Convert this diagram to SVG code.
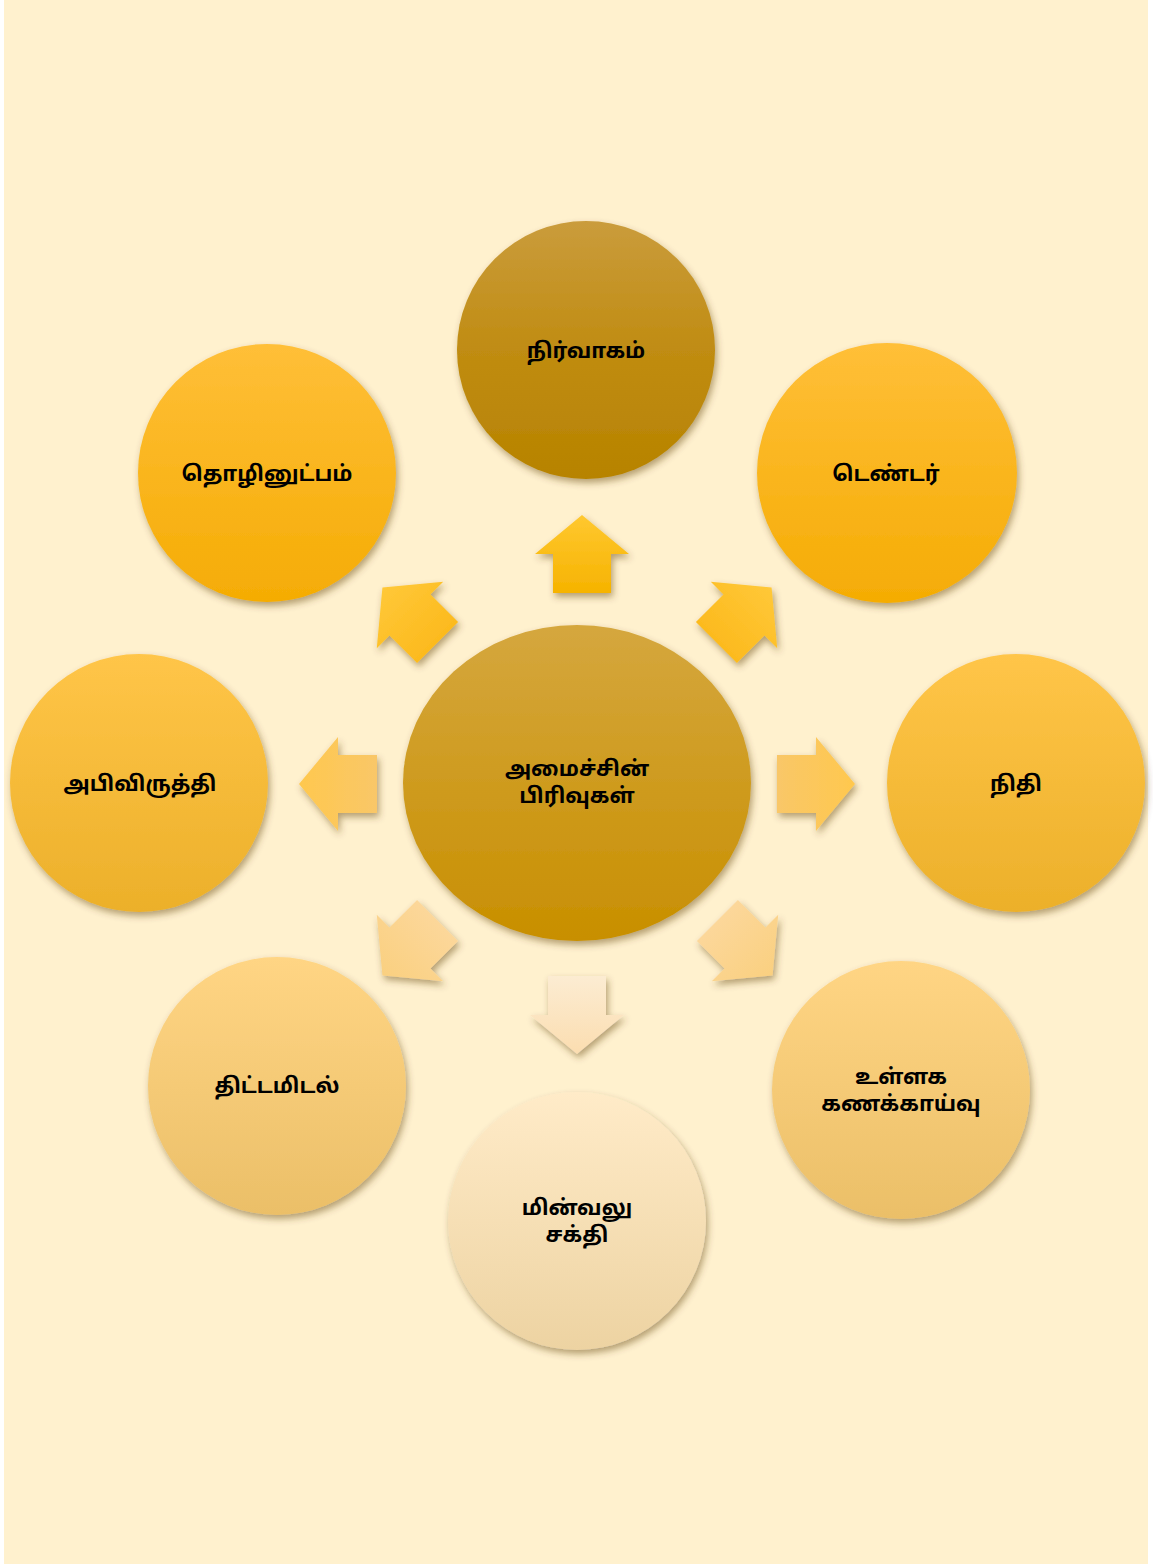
<svg xmlns="http://www.w3.org/2000/svg" width="1153" height="1564" viewBox="0 0 1153 1564">
<style>
.lbl{font-family:"Noto Sans Tamil","Latha","Lohit Tamil","Noto Sans","DejaVu Sans",sans-serif;font-weight:bold;font-size:21.5px;fill:#000;text-anchor:middle;}
</style>
<defs>
<filter id="sh" x="-20%" y="-20%" width="150%" height="150%">
<feDropShadow dx="2" dy="4" stdDeviation="3.5" flood-color="#5a3a00" flood-opacity="0.45"/>
</filter>
<linearGradient id="gTop" x1="0" y1="0" x2="0" y2="1"><stop offset="0" stop-color="#CA9C3C"/><stop offset="0.5" stop-color="#C08C12"/><stop offset="1" stop-color="#B78300"/></linearGradient>
<linearGradient id="gCen" x1="0" y1="0" x2="0" y2="1"><stop offset="0" stop-color="#D5A73E"/><stop offset="1" stop-color="#C88F00"/></linearGradient>
<linearGradient id="gOr" x1="0" y1="0" x2="0" y2="1"><stop offset="0" stop-color="#FFBF38"/><stop offset="1" stop-color="#F5AC04"/></linearGradient>
<linearGradient id="gSide" x1="0" y1="0" x2="0" y2="1"><stop offset="0" stop-color="#FFC548"/><stop offset="1" stop-color="#ECB02A"/></linearGradient>
<linearGradient id="gLow" x1="0" y1="0" x2="0" y2="1"><stop offset="0" stop-color="#FFD584"/><stop offset="1" stop-color="#EBBF68"/></linearGradient>
<linearGradient id="gBot" x1="0" y1="0" x2="0" y2="1"><stop offset="0" stop-color="#FFEBC8"/><stop offset="1" stop-color="#EDD3A2"/></linearGradient>
<linearGradient id="aUp" x1="0" y1="0" x2="0" y2="1"><stop offset="0" stop-color="#FFC830"/><stop offset="1" stop-color="#F6B300"/></linearGradient>
<linearGradient id="aDiagU" x1="0" y1="0" x2="0" y2="1"><stop offset="0" stop-color="#FFC838"/><stop offset="1" stop-color="#FCBA1E"/></linearGradient>
<linearGradient id="aSide" x1="0" y1="0" x2="0" y2="1"><stop offset="0" stop-color="#FFC84E"/><stop offset="1" stop-color="#F9C768"/></linearGradient>
<linearGradient id="aDiagD" x1="0" y1="0" x2="0" y2="1"><stop offset="0" stop-color="#FAD080"/><stop offset="1" stop-color="#FCD79A"/></linearGradient>
<linearGradient id="aDown" x1="0" y1="0" x2="0" y2="1"><stop offset="0" stop-color="#FBDDB0"/><stop offset="1" stop-color="#FCECD2"/></linearGradient>
<path id="arr" d="M0,-39 L47,0 L29,0 L29,39 L-29,39 L-29,0 L-47,0 Z"/>
</defs>
<rect x="0" y="0" width="1153" height="1564" fill="#FFFFFF"/>
<rect x="4" y="0" width="1144" height="1564" fill="#FFF1CE"/>

<g id="connectors">
<g filter="url(#sh)"><use href="#arr" transform="translate(582,554)" fill="url(#aUp)"/></g>
<g filter="url(#sh)"><use href="#arr" transform="translate(744,615) rotate(45)" fill="url(#aDiagU)"/></g>
<g filter="url(#sh)"><use href="#arr" transform="translate(816,784) rotate(90)" fill="url(#aSide)"/></g>
<g filter="url(#sh)"><use href="#arr" transform="translate(745,948) rotate(135)" fill="url(#aDiagD)"/></g>
<g filter="url(#sh)"><use href="#arr" transform="translate(577,1015) rotate(180)" fill="url(#aDown)"/></g>
<g filter="url(#sh)"><use href="#arr" transform="translate(410,948) rotate(-135)" fill="url(#aDiagD)"/></g>
<g filter="url(#sh)"><use href="#arr" transform="translate(338,784) rotate(-90)" fill="url(#aSide)"/></g>
<g filter="url(#sh)"><use href="#arr" transform="translate(410,615) rotate(-45)" fill="url(#aDiagU)"/></g>
</g>

<g id="node-center">
<ellipse cx="577" cy="783" rx="174" ry="158" fill="url(#gCen)" filter="url(#sh)"/>
<text class="lbl" x="577" y="776">அமைச்சின்</text>
<text class="lbl" x="577" y="803">பிரிவுகள்</text>
</g>
<g id="node-nirvagam">
<circle cx="586" cy="350" r="129" fill="url(#gTop)" filter="url(#sh)"/>
<text class="lbl" x="586" y="358">நிர்வாகம்</text>
</g>
<g id="node-tholinutpam">
<circle cx="267" cy="473" r="129" fill="url(#gOr)" filter="url(#sh)"/>
<text class="lbl" x="267" y="481">தொழினுட்பம்</text>
</g>
<g id="node-tender">
<circle cx="887" cy="473" r="130" fill="url(#gOr)" filter="url(#sh)"/>
<text class="lbl" x="886" y="481">டெண்டர்</text>
</g>
<g id="node-abivirutthi">
<circle cx="139" cy="783" r="129" fill="url(#gSide)" filter="url(#sh)"/>
<text class="lbl" x="140" y="791">அபிவிருத்தி</text>
</g>
<g id="node-nithi">
<circle cx="1016" cy="783" r="129" fill="url(#gSide)" filter="url(#sh)"/>
<text class="lbl" x="1016" y="791">நிதி</text>
</g>
<g id="node-thittamidal">
<circle cx="277" cy="1086" r="129" fill="url(#gLow)" filter="url(#sh)"/>
<text class="lbl" x="277" y="1093">திட்டமிடல்</text>
</g>
<g id="node-ullaga">
<circle cx="901" cy="1090" r="129" fill="url(#gLow)" filter="url(#sh)"/>
<text class="lbl" x="901" y="1084">உள்ளக</text>
<text class="lbl" x="901" y="1111">கணக்காய்வு</text>
</g>
<g id="node-minvalu">
<circle cx="577" cy="1221" r="129" fill="url(#gBot)" filter="url(#sh)"/>
<text class="lbl" x="577" y="1215">மின்வலு</text>
<text class="lbl" x="577" y="1242">சக்தி</text>
</g>
</svg>
